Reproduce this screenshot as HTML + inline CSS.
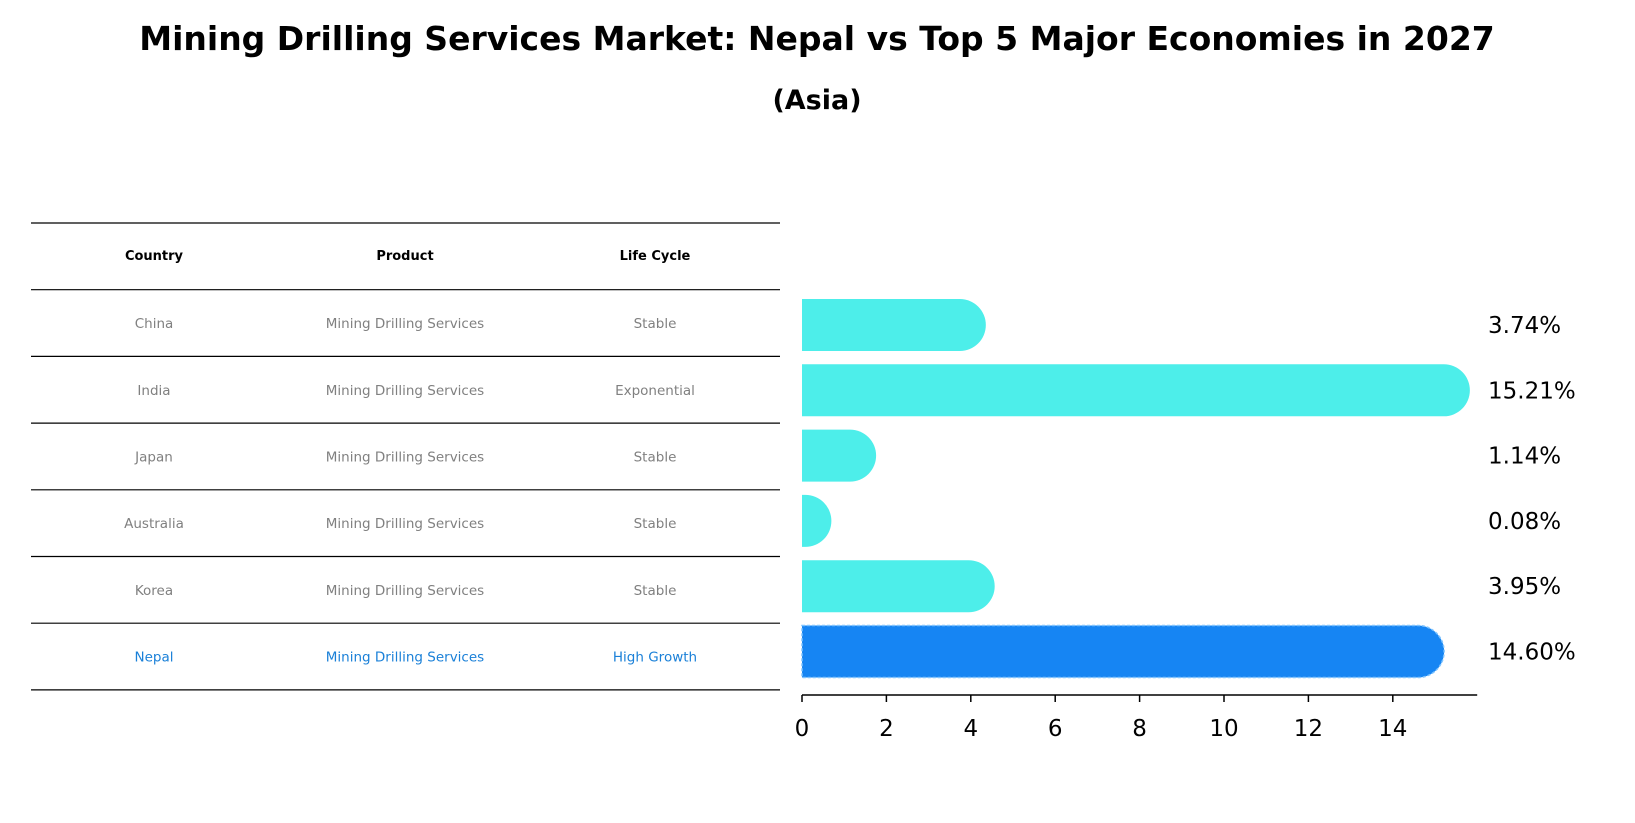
<!DOCTYPE html>
<html><head><meta charset="utf-8"><style>
body{margin:0;background:#fff}
svg{display:block;font-family:"DejaVu Sans","Liberation Sans",sans-serif}
</style></head><body>
<svg id="chart" width="1635" height="823" viewBox="0 0 1635 823">
<text x="817" y="50" text-anchor="middle" font-size="33" font-weight="bold">Mining Drilling Services Market: Nepal vs Top 5 Major Economies in 2027</text>
<text x="817" y="109" text-anchor="middle" font-size="27" font-weight="bold">(Asia)</text>
<g id="table"></g>
<g id="bars"></g>
</svg>
<script>
const countries=["China","India","Japan","Australia","Korea","Nepal"];
const products=["Mining Drilling Services","Mining Drilling Services","Mining Drilling Services","Mining Drilling Services","Mining Drilling Services","Mining Drilling Services"];
const lifecycles=["Stable","Exponential","Stable","Stable","Stable","High Growth"];
const values=[3.74,15.21,1.14,0.08,3.95,14.60];
const valueLabels=["3.74%","15.21%","1.14%","0.08%","3.95%","14.60%"];
const ticks=[0,2,4,6,8,10,12,14];
const NS="http://www.w3.org/2000/svg";
function mk(tag,attrs,parent,text){const e=document.createElementNS(NS,tag);for(const k in attrs)e.setAttribute(k,attrs[k]);if(text!==undefined)e.textContent=text;parent.appendChild(e);return e;}
const tbl=document.getElementById('table');
const lineY=i=>223+i*66.7;
for(let i=0;i<=7;i++){const l=mk('line',{x1:31,x2:780,y1:lineY(i),y2:lineY(i),stroke:'#000','stroke-width':1.2},tbl);

}
const colX=[154,405,655];
["Country","Product","Life Cycle"].forEach((h,j)=>{const t=mk('text',{x:colX[j],y:260,'text-anchor':'middle','font-size':13,'font-weight':'bold'},tbl,h);

});
countries.forEach((c,i)=>{const y=(lineY(i+1)+lineY(i+2))/2+5;const col=c==="Nepal"?"#1a80d8":"#808080";
[c,products[i],lifecycles[i]].forEach((v,j)=>{const t=mk('text',{x:colX[j],y:y,'text-anchor':'middle','font-size':13.5,fill:col},tbl,v);

});});
const bars=document.getElementById('bars');
const x0=802,pxPer=42.2,xs=v=>x0+v*pxPer;
const yc=i=>325+i*65.3,h=52;
values.forEach((v,i)=>{const col=countries[i]==="Nepal"?"#1685f3":"#4deeea";const xe=xs(v);const y=yc(i);
const p=mk('path',{d:`M${x0},${y-h/2} H${xe} A${h/2},${h/2} 0 0 1 ${xe},${y+h/2} H${x0} Z`,fill:col},bars);
if(countries[i]==="Nepal"){p.setAttribute('stroke','#7fc4ff');p.setAttribute('stroke-dasharray','3,2');p.setAttribute('stroke-width','1.5');}


const t=mk('text',{x:1488,y:y+8,'font-size':23},bars,valueLabels[i]);

});
const ax=mk('line',{x1:x0,x2:xs(16),y1:695,y2:695,stroke:'#000','stroke-width':1.5},bars);


ticks.forEach(t=>{const tl=mk('line',{x1:xs(t),x2:xs(t),y1:695,y2:702,stroke:'#000','stroke-width':1.5},bars);


const tx=mk('text',{x:xs(t),y:736,'text-anchor':'middle','font-size':23},bars,String(t));

});
</script>
</body></html>
